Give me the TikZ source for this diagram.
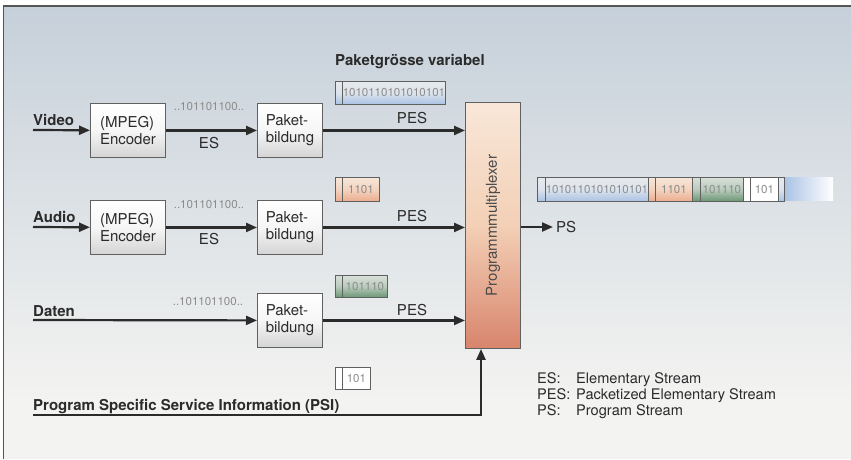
\documentclass[tikz,border=0pt]{standalone}
\usepackage{fontspec}
\setmainfont{TeX Gyre Heros}
\usetikzlibrary{arrows.meta}
\definecolor{ink}{HTML}{2B2B2B}
\definecolor{bgtop}{HTML}{C6D0DA}
\definecolor{bgbot}{HTML}{F3F3F1}
\definecolor{boxbot}{HTML}{D4D4D4}
\definecolor{boxmid}{HTML}{F6F6F6}
\definecolor{pkttop}{HTML}{E8EAEC}
\definecolor{pmid}{HTML}{DCE3EC}
\definecolor{pblue}{HTML}{A9C2E4}
\definecolor{otop}{HTML}{F7E6D9}
\definecolor{omid}{HTML}{F3D3BF}
\definecolor{pora}{HTML}{EBAC8E}
\definecolor{gtop}{HTML}{D8E0D9}
\definecolor{gmid}{HTML}{B9CBBC}
\definecolor{pgreen}{HTML}{6A9674}
\definecolor{muxtop}{HTML}{F8E7D8}
\definecolor{muxmid}{HTML}{F3D0B6}
\definecolor{muxbot}{HTML}{D8846C}
\definecolor{bitgray}{HTML}{8C8C8C}
\newcommand\mainsz{\fontsize{15}{17}\selectfont}
\newcommand\bitsz{\fontsize{11.5}{13}\selectfont}
\newcommand\pktsz{\fontsize{11.5}{13}\selectfont}
\newcommand\legsz{\fontsize{14.6}{16}\selectfont}
\begin{document}
\begin{tikzpicture}[x=1pt,y=-1pt,
  txt/.style={inner sep=0pt,text=ink,font=\mainsz},
  inlbl/.style={inner sep=0pt,text=ink,font=\mainsz\bfseries,anchor=base west},
  procbox/.style={draw=ink!75,line width=0.9pt,top color=white,bottom color=boxbot,middle color=boxmid,
     minimum height=54pt,inner sep=0pt,align=left,anchor=north west,font=\mainsz,text=ink},
  pkt/.style={draw=ink!75,line width=0.8pt,inner sep=0pt,anchor=north west},
  bluepk/.style={top color=pkttop,bottom color=pblue,middle color=pmid},
  orangepk/.style={top color=otop,bottom color=pora,middle color=omid},
  greenpk/.style={top color=gtop,bottom color=pgreen,middle color=gmid},
  hdr/.style={draw=ink!75,line width=0.8pt},
  bitlbl/.style={inner sep=0pt,text=bitgray,font=\pktsz},
  streambits/.style={inner sep=0pt,text=bitgray,font=\bitsz},
  conn/.style={draw=ink,line width=2.2pt,-{Triangle[length=11pt,width=9pt]}},
  leg/.style={inner sep=0pt,text=ink,font=\legsz,anchor=base west}]
\useasboundingbox (0,0) rectangle (851,459);
% background
\fill[white] (0,0) rectangle (851,459);
\shade[top color=bgtop,bottom color=bgbot] (3.5,6) rectangle (851,400);
\fill[bgbot] (3.5,400) rectangle (851,459);
\draw[ink!80,line width=1.4pt] (3.5,459) -- (3.5,6) -- (851,6);

% title
\node[inner sep=0pt,text=ink,font=\mainsz\bfseries,anchor=base west] (title) at (335,65) {Paketgr\"osse variabel};

% processing boxes
\node[procbox,minimum width=75pt] (enc1) at (90,103) {(MPEG)\\Encoder};
\node[procbox,minimum width=65pt] (pak1) at (257,103) {Paket-\\bildung};
\node[procbox,minimum width=75pt] (enc2) at (90,200) {(MPEG)\\Encoder};
\node[procbox,minimum width=65pt] (pak2) at (257,200) {Paket-\\bildung};
\node[procbox,minimum width=65pt] (pak3) at (257,293) {Paket-\\bildung};

% multiplexer
\node[draw=ink!75,line width=0.9pt,top color=muxtop,bottom color=muxbot,middle color=muxmid,
  minimum width=55pt,minimum height=246pt,inner sep=0pt,anchor=north west] (mux) at (465,102) {};
\node[rotate=90,inner sep=0pt,text=ink!85,font=\mainsz] (muxlbl) at (mux.center) {Programmmultiplexer};

% inputs
\coordinate (vin) at (33,130);
\coordinate (ain) at (33,227);
\coordinate (din) at (33,320);
\coordinate (psi) at (33,415);
\coordinate (psend) at (553,227);
\node[inlbl] (vlbl) at (33,125) {Video};
\node[inlbl] (albl) at (33,222) {Audio};
\node[inlbl] (dlbl) at (33,316) {Daten};
\node[inlbl] (psilbl) at (33,410) {Program Specific Service Information (PSI)};

% connectors
\draw[conn] (vin) -- (enc1);
\draw[conn] (enc1) -- (pak1);
\draw[conn] (pak1) -- (pak1 -| mux.west);
\draw[conn] (ain) -- (enc2);
\draw[conn] (enc2) -- (pak2);
\draw[conn] (pak2) -- (pak2 -| mux.west);
\draw[conn] (din) -- (pak3);
\draw[conn] (pak3) -- (pak3 -| mux.west);
\draw[conn] (psi) -| ([xshift=16pt]mux.south west);
\draw[conn] (mux.east |- psend) -- (psend);
\node[txt,anchor=west] (pslbl) at ([xshift=3pt]psend) {PS};

% connector labels
\node[txt,anchor=base] (es1) at (209,148) {ES};
\node[txt,anchor=base] (es2) at (209,244) {ES};
\node[txt,anchor=base] (pes1) at (412,123) {PES};
\node[txt,anchor=base] (pes2) at (412,221) {PES};
\node[txt,anchor=base] (pes3) at (412,315) {PES};
\node[streambits] (b1) at (209,107) {..101101100..};
\node[streambits] (b2) at (209,205) {..101101100..};
\node[streambits] (b3) at (208,302) {..101101100..};

% packets
\node[pkt,bluepk,minimum width=110pt,minimum height=23pt] (p1) at (335,81) {};
\draw[hdr] ([xshift=7pt]p1.north west) -- ([xshift=7pt]p1.south west);
\node[bitlbl] (p1t) at ([xshift=3.5pt]p1.center) {1010110101010101};

\node[pkt,orangepk,minimum width=44pt,minimum height=24pt] (p2) at (335,177) {};
\draw[hdr] ([xshift=7pt]p2.north west) -- ([xshift=7pt]p2.south west);
\node[bitlbl] (p2t) at ([xshift=3.5pt]p2.center) {1101};

\node[pkt,greenpk,minimum width=52pt,minimum height=22pt] (p3) at (335,275) {};
\draw[hdr] ([xshift=7pt]p3.north west) -- ([xshift=7pt]p3.south west);
\node[bitlbl] (p3t) at ([xshift=3.5pt]p3.center) {101110};

\node[pkt,fill=white,minimum width=35pt,minimum height=22pt] (p4) at (335,367) {};
\draw[hdr] ([xshift=7pt]p4.north west) -- ([xshift=7pt]p4.south west);
\node[bitlbl] (p4t) at ([xshift=3.5pt]p4.center) {101};

% program stream
\shade[left color=pblue,right color=white] (784,177.4) rectangle (833,200.6);
\node[pkt,bluepk,minimum width=111pt,minimum height=24pt] (s1) at (537,177) {};
\draw[hdr] ([xshift=8pt]s1.north west) -- ([xshift=8pt]s1.south west);
\node[bitlbl] (s1t) at ([xshift=4pt]s1.center) {1010110101010101};
\node[pkt,orangepk,minimum width=44pt,minimum height=24pt] (s2) at (648,177) {};
\draw[hdr] ([xshift=7pt]s2.north west) -- ([xshift=7pt]s2.south west);
\node[bitlbl] (s2t) at ([xshift=3.5pt]s2.center) {1101};
\node[pkt,greenpk,minimum width=51pt,minimum height=24pt] (s3) at (692,177) {};
\draw[hdr] ([xshift=8pt]s3.north west) -- ([xshift=8pt]s3.south west);
\node[bitlbl] (s3t) at ([xshift=4pt]s3.center) {101110};
\node[pkt,fill=white,minimum width=35pt,minimum height=24pt] (s4) at (743,177) {};
\draw[hdr] ([xshift=7pt]s4.north west) -- ([xshift=7pt]s4.south west);
\node[bitlbl] (s4t) at ([xshift=3.5pt]s4.center) {101};
\node[pkt,bluepk,minimum width=6pt,minimum height=24pt] (s5) at (778,177) {};

% legend
\node[leg] (l1a) at (537,383) {ES:};
\node[leg] (l1b) at (576,383) {Elementary Stream};
\node[leg] (l2a) at (537,399) {PES:};
\node[leg] (l2b) at (576,399) {Packetized Elementary Stream};
\node[leg] (l3a) at (537,415) {PS:};
\node[leg] (l3b) at (576,415) {Program Stream};
\end{tikzpicture}
\end{document}
